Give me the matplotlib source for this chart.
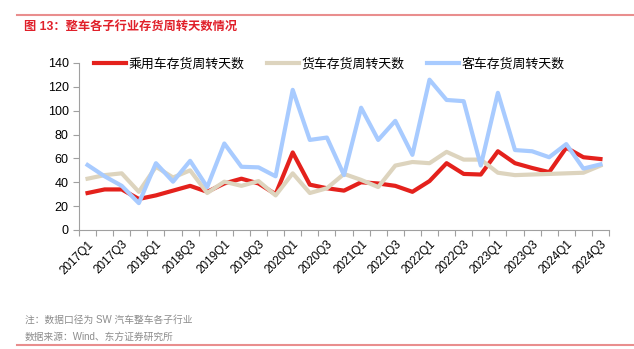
import matplotlib
matplotlib.use('Agg')
import matplotlib.pyplot as plt
from matplotlib.lines import Line2D

plt.rcParams['font.family'] = ['Liberation Sans', 'Noto Sans CJK SC', 'DejaVu Sans']
plt.rcParams['axes.unicode_minus'] = False

# 数据
quarters = [f'{y}Q{q}' for y in range(2017, 2025) for q in range(1, 5)][:31]
passenger = [31, 34, 34, 26, 29, 33, 37, 32, 39, 43, 39, 30, 65, 38, 35, 33,
             40, 39, 37, 32, 41, 56, 47, 46.5, 66, 56, 52, 48.5, 69, 61, 59.5]
truck = [43, 46, 47.5, 32, 53, 44, 50, 31, 40.5, 37, 41, 29, 47.5, 31, 35, 47,
         42, 36, 54, 57, 56, 65.5, 59, 59, 48, 46, 46.5, 47, 47.5, 48, 54]
bus = [54.5, 45, 37, 22.5, 56, 40.5, 58, 36, 72.5, 53, 52.5, 45, 117.5, 75.5, 77.5, 46,
       102.5, 75.5, 91.5, 63, 126, 109, 108, 54, 115, 67, 66, 61, 72, 51.5, 55]
series_names = ['乘用车存货周转天数', '货车存货周转天数', '客车存货周转天数']
colors = ['#E4211C', '#DDD4BE', '#A8CBFF']

fig = plt.figure(figsize=(6.34, 3.49), dpi=100)
ax = fig.add_axes([0.1246, 0.341, 0.836, 0.4785])

x = list(range(len(quarters)))
for vals, name, c in zip([passenger, truck, bus], series_names, colors):
    ax.plot(x, vals, color=c, lw=3, label=name)

ax.set_ylim(0, 140)
ax.set_yticks(range(0, 141, 20))
ax.set_xlim(-0.5, len(quarters) - 0.5)
ax.set_xticks(x[::2])
ax.set_xticklabels(quarters[::2], rotation=45, ha='right', rotation_mode='anchor')
ax.set_xticks([i - 0.5 for i in range(len(quarters) + 1)], minor=True)
ax.tick_params(axis='x', which='major', length=0, pad=6, labelsize=8.5)
ax.tick_params(axis='x', which='minor', length=4, color='#A0A0A0', width=0.8)
ax.tick_params(axis='y', length=4, color='#A0A0A0', width=0.8, labelsize=9)

for s in ['top', 'right']:
    ax.spines[s].set_visible(False)
for s in ['left', 'bottom']:
    ax.spines[s].set_color('#A0A0A0')
    ax.spines[s].set_linewidth(0.8)

ax.legend(loc='upper left', bbox_to_anchor=(94 / 634, 1 - 58 / 349),
          bbox_transform=fig.transFigure, ncol=3, frameon=False, borderpad=0,
          borderaxespad=0, fontsize=9.3, handlelength=2.5, handletextpad=0.2,
          columnspacing=1.7)

# 标题和注释
fig.add_artist(Line2D([17 / 634, 1], [1 - 15 / 349] * 2, color='#E98E8E', lw=1.5))
fig.text(24 / 634, 1 - 27 / 349, '图 13：整车各子行业存货周转天数情况', color='#E0202A',
         fontsize=8.8, fontweight='bold', va='center', ha='left')
fig.text(25 / 634, 1 - 320 / 349, '注：数据口径为 SW 汽车整车各子行业', color='#8C8C8C',
         fontsize=7, va='center', ha='left')
fig.text(25 / 634, 1 - 337 / 349, '数据来源：Wind、东方证券研究所', color='#8C8C8C',
         fontsize=7, va='center', ha='left')
fig.add_artist(Line2D([17 / 634, 1], [1 - 345 / 349] * 2, color='#E98E8E', lw=1.5))

fig.savefig('out.png', dpi=100)
